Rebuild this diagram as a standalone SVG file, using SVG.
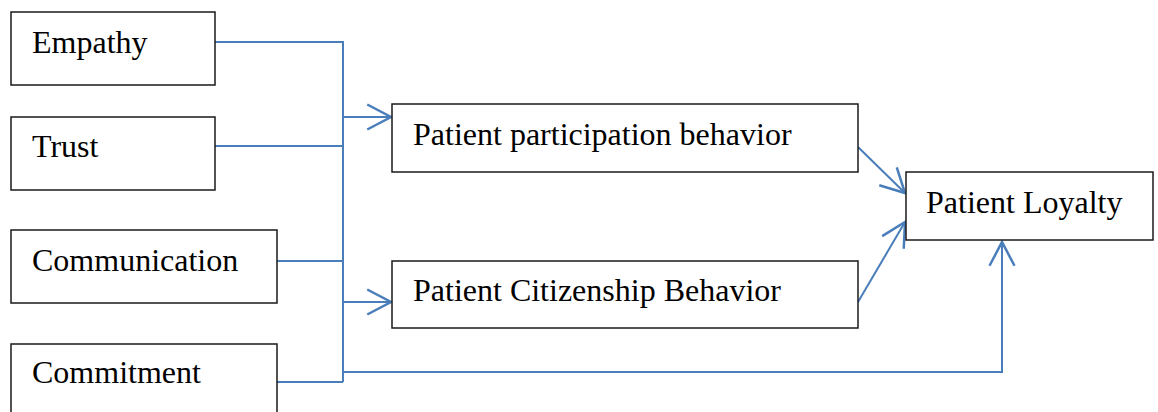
<svg xmlns="http://www.w3.org/2000/svg" width="1158" height="412" viewBox="0 0 1158 412">
<style>
.box{fill:#fff;stroke:#1a1a1a;stroke-width:1.5}
.lbl{font-family:"Liberation Serif","Times New Roman",serif;font-size:32px;fill:#000}
.conn{fill:none;stroke:#4a7ebb;stroke-width:2}
</style>
<defs>
<marker id="arr" markerUnits="userSpaceOnUse" markerWidth="30" markerHeight="30" viewBox="-22 -12 24 24" refX="0" refY="0" orient="auto" overflow="visible">
<path d="M-19,-10 L0,0 L-19,10" fill="none" stroke="#4a7ebb" stroke-width="2"/>
</marker>
</defs>
<rect width="1158" height="412" fill="#fff"/>
<g id="connectors">
<path class="conn" d="M215,42 H343 V382"/>
<path class="conn" d="M215,146 H343"/>
<path class="conn" d="M277,261 H343"/>
<path class="conn" d="M277,382 H343"/>
<path class="conn" d="M343,117 H391" marker-end="url(#arr)"/>
<path class="conn" d="M343,302 H391" marker-end="url(#arr)"/>
<path class="conn" d="M343,372 H1002 V242" marker-end="url(#arr)"/>
<path class="conn" d="M858,147 L905,193" marker-end="url(#arr)"/>
<path class="conn" d="M858,302 L905,222" marker-end="url(#arr)"/>
</g>
<g id="empathy"><rect class="box" x="11" y="12" width="204" height="73"/><text class="lbl" x="32" y="53">Empathy</text></g>
<g id="trust"><rect class="box" x="11" y="117" width="204" height="73"/><text class="lbl" x="32" y="157">Trust</text></g>
<g id="communication"><rect class="box" x="11" y="230" width="266" height="73"/><text class="lbl" x="32" y="271">Communication</text></g>
<g id="commitment"><rect class="box" x="11" y="344" width="266" height="80"/><text class="lbl" x="32" y="383">Commitment</text></g>
<g id="ppb"><rect class="box" x="392" y="104" width="466" height="68"/><text class="lbl" x="413" y="145">Patient participation behavior</text></g>
<g id="pcb"><rect class="box" x="392" y="261" width="466" height="67"/><text class="lbl" x="413" y="301">Patient Citizenship Behavior</text></g>
<g id="loyalty"><rect class="box" x="906" y="172" width="247" height="68"/><text class="lbl" x="926" y="213">Patient Loyalty</text></g>
</svg>
